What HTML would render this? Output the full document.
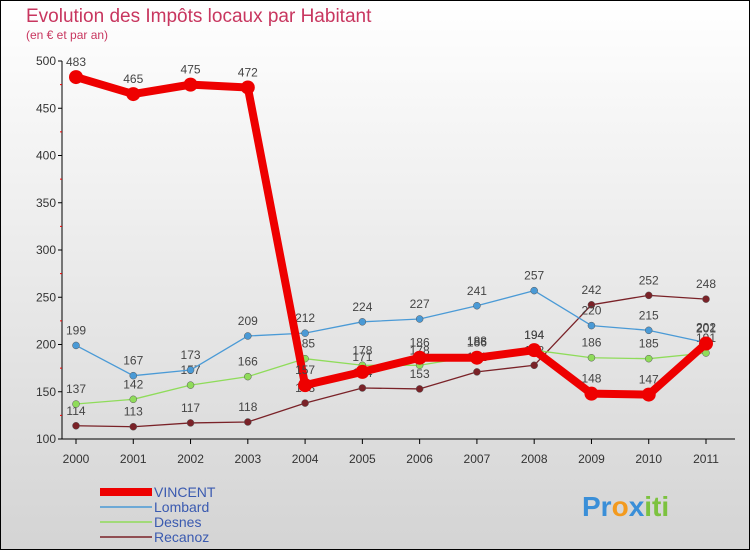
<!DOCTYPE html>
<html><head><meta charset="utf-8"><style>
body{margin:0;width:750px;height:550px;overflow:hidden;font-family:"Liberation Sans",sans-serif}
svg{display:block}
</style></head><body>
<svg width="750" height="550" xmlns="http://www.w3.org/2000/svg">
<defs><linearGradient id="bg" x1="0" y1="0" x2="0" y2="1"><stop offset="0" stop-color="#ffffff"/><stop offset="1" stop-color="#d4d4d4"/></linearGradient></defs>
<rect x="0.5" y="0.5" width="749" height="549" fill="url(#bg)" stroke="#000"/>
<text x="26" y="22" font-size="19" fill="#c8365f">Evolution des Impôts locaux par Habitant</text>
<text x="26" y="39" font-size="12" fill="#c8365f">(en € et par an)</text>
<g id="axes"></g>
<g id="series"></g>
<g id="legend"></g>
<text x="582" y="516" font-size="28" font-weight="bold"><tspan fill="#3a8fd8">Pr</tspan><tspan fill="#f39a1e">o</tspan><tspan fill="#3a8fd8">x</tspan><tspan fill="#7cc23f">iti</tspan></text>
</svg>
<script>
const years=["2000","2001","2002","2003","2004","2005","2006","2007","2008","2009","2010","2011"];
const yTicks=[100,150,200,250,300,350,400,450,500];
const vincent=[483,465,475,472,157,171,186,186,194,148,147,201];
const lombard=[199,167,173,209,212,224,227,241,257,220,215,202];
const desnes=[137,142,157,166,185,178,178,188,194,186,185,191];
const recanoz=[114,113,117,118,138,154,153,171,178,242,252,248];
const NS="http://www.w3.org/2000/svg";
function xs(i){return 76+i*(706-76)/11;}
function ys(v){return 439-(v-100)*(439-61)/400;}
function mk(t,a,p){const e=document.createElementNS(NS,t);for(const k in a)e.setAttribute(k,a[k]);if(t==='text'||t==='line'||t==='circle'||t==='polyline'||t==='rect'){}p.appendChild(e);return e;}
const ax=document.getElementById('axes');
let l=mk('line',{x1:62,y1:61,x2:62,y2:439,stroke:'#000'},ax);

l=mk('line',{x1:62,y1:439,x2:735,y2:439,stroke:'#000'},ax);

yTicks.forEach(v=>{const y=ys(v);
 let t=mk('line',{x1:58,y1:y,x2:62,y2:y,stroke:'#000'},ax);
 
 if(v<500){let m=mk('line',{x1:60,y1:ys(v+25),x2:62,y2:ys(v+25),stroke:'#e00'},ax);
 }
 let tx=mk('text',{x:56,y:y+4,'font-size':12,fill:'#333','text-anchor':'end'},ax);tx.textContent=v;
 });
years.forEach((yr,i)=>{const x=xs(i);
 let t=mk('line',{x1:x,y1:439,x2:x,y2:444,stroke:'#000'},ax);
 
 let tx=mk('text',{x:x,y:463,'font-size':12,fill:'#333','text-anchor':'middle'},ax);tx.textContent=yr;
 });
const sg=document.getElementById('series');
const series=[
 {n:'recanoz',d:recanoz,c:'#7a2228',w:1.3,r:3.5},
 {n:'desnes',d:desnes,c:'#8fdc5a',w:1.3,r:3.5},
 {n:'lombard',d:lombard,c:'#4a9ad6',w:1.3,r:3.5},
 {n:'vincent',d:vincent,c:'#ee0000',w:8,r:7}];
series.forEach(s=>{
 const g=mk('g',{},sg);
 let pl=mk('polyline',{points:s.d.map((v,i)=>xs(i)+','+ys(v)).join(' '),fill:'none',stroke:s.c,'stroke-width':s.w,'stroke-linejoin':'round'},g);
 
 s.d.forEach((v,i)=>{
  let c=mk('circle',{cx:xs(i),cy:ys(v),r:s.r,fill:s.c,stroke:s.n==='vincent'?'none':'#555','stroke-width':0.5},g);
  
  let t=mk('text',{x:xs(i),y:ys(v)-11,'font-size':12,fill:'#444','text-anchor':'middle'},g);t.textContent=v;
  });
});
const lg=document.getElementById('legend');
[['VINCENT','#ee0000',8],['Lombard','#4a9ad6',1.5],['Desnes','#8fdc5a',1.5],['Recanoz','#7a2228',1.5]].forEach((e,i)=>{
 const y=492+i*15;
 let g=mk('g',{},lg);
 let ln=mk('line',{x1:100,y1:y,x2:152,y2:y,stroke:e[1],'stroke-width':e[2]},g);
 
 let t=mk('text',{x:154,y:y+5,'font-size':14,fill:'#3a5ab0'},g);t.textContent=e[0];
 });
</script>
</body></html>
